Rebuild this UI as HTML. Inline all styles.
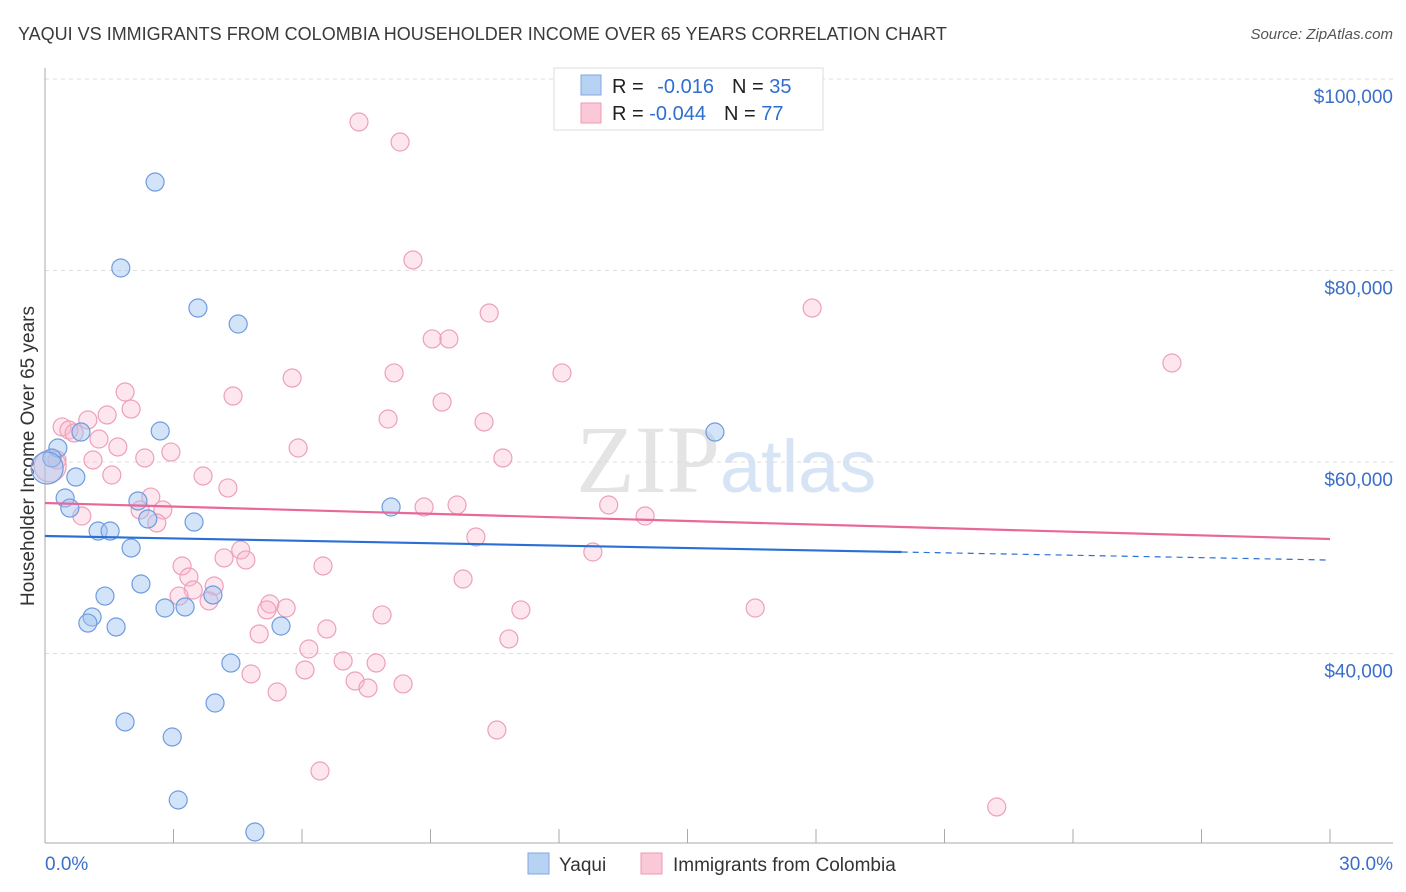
<!DOCTYPE html>
<html><head><meta charset="utf-8"><style>
body{margin:0;background:#fff;font-family:"Liberation Sans",sans-serif}
#wrap{position:relative;width:1406px;height:892px;overflow:hidden}
</style></head><body>
<div id="wrap">
<svg id="chart" width="1406" height="892" xmlns="http://www.w3.org/2000/svg">
<text x="18" y="40" font-size="18" fill="#3a3a3a">YAQUI VS IMMIGRANTS FROM COLOMBIA HOUSEHOLDER INCOME OVER 65 YEARS CORRELATION CHART</text>
<text x="1393" y="39" font-size="15" fill="#555" font-style="italic" text-anchor="end">Source: ZipAtlas.com</text>
<text x="720" y="492" font-size="96" fill="#e4e4e4" font-family="Liberation Serif" text-anchor="end">ZIP</text>
<text x="720" y="492" font-size="74" fill="#d6e4f5">atlas</text>
<text transform="translate(34,456) rotate(-90)" font-size="19" fill="#333" text-anchor="middle">Householder Income Over 65 years</text>
<g id="grid"></g><g id="axes"></g><g id="pts"></g><g id="trend"></g>
<g>
<rect x="554" y="68" width="269" height="62" fill="#fff" stroke="#ddd"/>
<rect x="581" y="75" width="20" height="20" fill="#b8d2f4" stroke="#7fa8e0"/>
<rect x="581" y="103" width="20" height="20" fill="#fbc8d8" stroke="#ec9ab5"/>
<text x="612" y="93" font-size="20" fill="#222">R = <tspan fill="#2f6fcf" dx="8">-0.016</tspan><tspan dx="18">N = </tspan><tspan fill="#2f6fcf">35</tspan></text>
<text x="612" y="120" font-size="20" fill="#222">R = <tspan fill="#2f6fcf">-0.044</tspan><tspan dx="18">N = </tspan><tspan fill="#2f6fcf">77</tspan></text>
</g>
<g>
<rect x="528" y="853" width="21" height="21" fill="#b8d2f4" stroke="#7fa8e0"/>
<text x="559" y="871" font-size="19" fill="#333">Yaqui</text>
<rect x="641" y="853" width="21" height="21" fill="#fbc8d8" stroke="#ec9ab5"/>
<text x="673" y="871" font-size="19" fill="#333">Immigrants from Colombia</text>
</g>
<text x="45" y="870" font-size="19" fill="#3a6fc8">0.0%</text>
<text x="1393" y="870" font-size="19" fill="#3a6fc8" text-anchor="end">30.0%</text>
</svg>
</div>
<script>
const yTicks=[100,80,60,40];
const yTickLabels=["$100,000","$80,000","$60,000","$40,000"];
const xTicks=[0,3,6,9,12,15,18,21,24,27,30];
const yaquiX=[2.57,1.77,3.57,4.51,2.69,0.84,15.64,0.30,0.16,0.05,0.72,0.47,0.58,2.17,8.08,2.40,3.48,1.24,1.52,2.01,2.24,1.40,2.80,3.27,3.92,1.10,1.00,1.66,5.51,4.34,3.97,1.87,2.97,3.11,4.90];
const yaquiY=[89.24,80.26,76.08,74.41,63.24,63.13,63.13,61.46,60.42,59.37,58.43,56.24,55.19,55.93,55.30,54.05,53.73,52.79,52.79,51.02,47.26,46.0,44.75,44.86,46.11,43.81,43.18,42.77,42.87,39.0,34.83,32.85,31.28,24.70,21.36];
const colX=[7.33,8.29,8.59,10.37,17.91,26.31,9.04,9.43,5.77,8.15,12.07,1.87,4.39,9.27,2.01,1.45,1.00,8.01,10.25,0.40,0.56,0.68,1.26,1.70,5.91,2.94,2.33,1.12,10.69,0.28,0.12,1.56,3.69,4.27,2.47,8.85,9.62,13.16,2.22,2.75,0.86,14.01,2.61,10.06,12.79,4.57,4.18,4.69,3.20,6.49,3.36,9.76,3.95,3.46,3.13,3.83,5.25,5.18,5.63,16.58,11.11,7.87,6.58,5.00,10.83,6.16,6.96,7.73,6.07,4.81,7.24,7.54,8.36,5.42,10.55,6.42,22.22];
const colY=[95.51,93.42,81.10,75.56,76.08,70.34,72.85,72.85,68.77,69.30,69.30,67.31,66.89,66.26,65.53,64.91,64.39,64.49,64.18,63.66,63.34,63.03,62.40,61.57,61.46,61.04,60.42,60.21,60.42,60.21,59.58,58.64,58.54,57.29,56.34,55.30,55.51,55.51,54.99,54.99,54.36,54.36,53.63,52.17,50.60,50.81,49.98,49.77,49.14,49.14,47.99,47.78,47.05,46.63,46.0,45.49,45.17,44.55,44.75,44.75,44.55,44.03,42.56,42.04,41.52,40.47,39.22,39.01,38.28,37.86,37.13,36.40,36.82,35.98,32.01,27.73,23.97];
const yaquiTrend=[52.27,49.76];
const colTrend=[55.72,51.96];
const yaquiSolidEnd=20;

const NS="http://www.w3.org/2000/svg";
const X0=45,X1=1330,Y100=79,PX_PER_K=191.5/20;
function sx(v){return X0+(v/30)*(X1-X0);}
function sy(v){return Y100+(100-v)*PX_PER_K;}
function mk(tag,attrs,parent){const e=document.createElementNS(NS,tag);for(const k in attrs)e.setAttribute(k,attrs[k]);parent.appendChild(e);return e;}
const grid=document.getElementById('grid'),axes=document.getElementById('axes'),pts=document.getElementById('pts'),trend=document.getElementById('trend');
yTicks.forEach((t,i)=>{
  const l=mk('line',{x1:X0,x2:1393,y1:sy(t),y2:sy(t),stroke:'#ddd','stroke-dasharray':'4,4'},grid);
  
  
  const tx=mk('text',{x:1393,y:sy(t)+24,'font-size':19,fill:'#3a6fc8','text-anchor':'end'},grid);
  tx.textContent=yTickLabels[i];
  
  
});
const ya=mk('line',{x1:X0,x2:X0,y1:68,y2:843,stroke:'#aaa'},axes);


const xa=mk('line',{x1:X0,x2:1393,y1:843,y2:843,stroke:'#aaa'},axes);


xTicks.forEach(t=>{
  const l=mk('line',{x1:sx(t),x2:sx(t),y1:829,y2:843,stroke:'#aaa'},axes);
  
  
});
function dots(xs,ys,fill,stroke,name){
  xs.forEach((x,i)=>{
    const big=(x<0.15);
    const c=mk('circle',{cx:sx(x),cy:sy(ys[i]),r:big?16:9,fill:fill,stroke:stroke,'stroke-width':1.2},pts);
    
    
  });
}
dots(colX,colY,'rgba(248,182,204,0.35)','#eda0ba','point-colombia');
dots(yaquiX,yaquiY,'rgba(160,196,240,0.45)','#6e9ce0','point-yaqui');
function lineAt(tr,x){return tr[0]+(tr[1]-tr[0])*x/30;}
const t1=mk('line',{x1:sx(0),y1:sy(colTrend[0]),x2:sx(30),y2:sy(colTrend[1]),stroke:'#e8689a','stroke-width':2.2},trend);


const t2=mk('line',{x1:sx(0),y1:sy(yaquiTrend[0]),x2:sx(yaquiSolidEnd),y2:sy(lineAt(yaquiTrend,yaquiSolidEnd)),stroke:'#2a6fd6','stroke-width':2.2},trend);


const t3=mk('line',{x1:sx(yaquiSolidEnd),y1:sy(lineAt(yaquiTrend,yaquiSolidEnd)),x2:sx(30),y2:sy(yaquiTrend[1]),stroke:'#2a6fd6','stroke-width':1.2,'stroke-dasharray':'6,5'},trend);


</script>
</body></html>
